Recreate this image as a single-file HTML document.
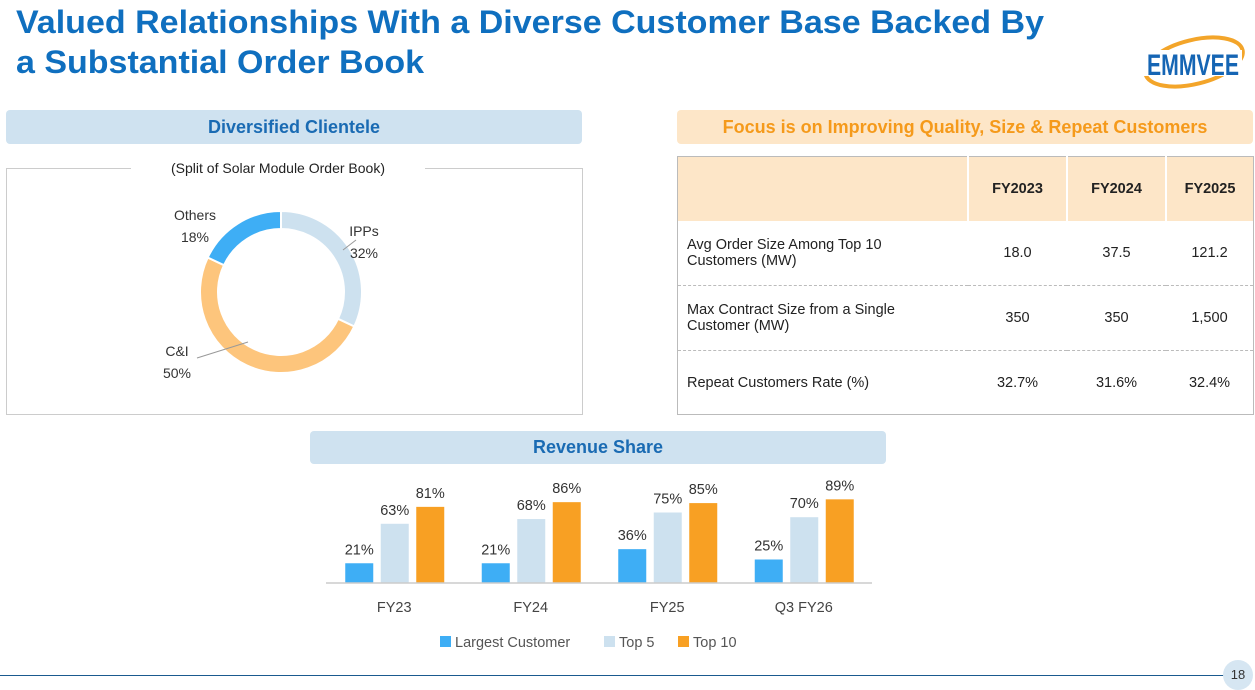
<!DOCTYPE html>
<html><head><meta charset="utf-8"><style>
body{margin:0;width:1255px;height:689px;background:#fff;font-family:"Liberation Sans",sans-serif;position:relative;overflow:hidden}
.abs{position:absolute}
.band{background:#cfe2f0;border-radius:4px;text-align:center;font-weight:bold;font-size:18px;color:#1a6bb3;line-height:34px}
td{font-size:14.5px;color:#222}
</style></head><body>
<svg class="abs" style="left:0;top:0" width="1100" height="90">
<text x="16" y="33" font-family="Liberation Sans" font-weight="bold" font-size="32" fill="#0f6fbf" textLength="1028" lengthAdjust="spacingAndGlyphs">Valued Relationships With a Diverse Customer Base Backed By</text>
<text x="16" y="73" font-family="Liberation Sans" font-weight="bold" font-size="32" fill="#0f6fbf" textLength="408" lengthAdjust="spacingAndGlyphs">a Substantial Order Book</text>
</svg>
<div class="abs" style="left:1138px;top:28px;width:110px;height:64px">
<svg width="110" height="64"><ellipse cx="56" cy="34" rx="50" ry="22" fill="none" stroke="#f3a52a" stroke-width="4" transform="rotate(-14 56 34)"/>
<rect x="4" y="22" width="100" height="26" fill="#fff"/>
<text x="55" y="47" text-anchor="middle" font-family="Liberation Sans" font-weight="bold" font-size="30" fill="#1565b4" textLength="92" lengthAdjust="spacingAndGlyphs">EMMVEE</text></svg></div>

<div class="abs band" style="left:6px;top:110px;width:576px;height:34px">Diversified Clientele</div>
<div class="abs" style="left:6px;top:168px;width:575px;height:246px;border:1px solid #ccc;border-top:none"></div>
<div class="abs" style="left:6px;top:168px;width:125px;border-top:1px solid #ccc"></div>
<div class="abs" style="left:425px;top:168px;width:157px;border-top:1px solid #ccc"></div>
<div class="abs" style="left:131px;top:160px;width:294px;text-align:center;font-size:14px;color:#222">(Split of Solar Module Order Book)</div>
<svg class="abs" style="left:0;top:0" width="600" height="420" id="donut"></svg>

<div class="abs" style="left:677px;top:110px;width:576px;height:34px;background:#fde6c8;border-radius:4px;text-align:center;font-weight:bold;font-size:18px;line-height:34px;color:#f59a1b">Focus is on Improving Quality, Size &amp; Repeat Customers</div>
<table class="abs" style="left:677px;top:156px;width:577px;border-collapse:collapse;border:1px solid #bbb">
<tr style="height:64px;background:#fde6c8"><td style="width:287px"></td><td style="width:95px;text-align:center;font-weight:bold;border-left:2px solid #fff">FY2023</td><td style="width:95px;text-align:center;font-weight:bold;border-left:2px solid #fff">FY2024</td><td style="text-align:center;font-weight:bold;border-left:2px solid #fff">FY2025</td></tr>
<tr style="height:65px;border-bottom:1px dashed #bbb"><td style="padding-left:9px">Avg Order Size Among Top 10<br>Customers (MW)</td><td align="center">18.0</td><td align="center">37.5</td><td align="center">121.2</td></tr>
<tr style="height:65px;border-bottom:1px dashed #bbb"><td style="padding-left:9px">Max Contract Size from a Single<br>Customer (MW)</td><td align="center">350</td><td align="center">350</td><td align="center">1,500</td></tr>
<tr style="height:64px"><td style="padding-left:9px">Repeat Customers Rate (%)</td><td align="center">32.7%</td><td align="center">31.6%</td><td align="center">32.4%</td></tr>
</table>

<div class="abs band" style="left:310px;top:431px;width:576px;height:33px;line-height:33px">Revenue Share</div>
<svg class="abs" style="left:0;top:0" width="1255" height="689" id="bars"></svg>

<div class="abs" style="left:0;top:675px;width:1225px;border-top:1px solid #1a5a8f"></div>
<div class="abs" style="left:1223px;top:660px;width:30px;height:30px;border-radius:15px;background:#d6e6f2;text-align:center;line-height:30px;font-size:13px;color:#333">18</div>

<script>
const NS="http://www.w3.org/2000/svg";
function mk(p,t,a){const e=document.createElementNS(NS,t);for(const k in a)e.setAttribute(k,a[k]);p.appendChild(e);return e;}
// donut
const slices=["IPPs","C&I","Others"];
const shares=[32,50,18];
const sliceColors=["#cde1ef","#fdc57c","#3eaef5"];
const d=document.getElementById("donut");
const cx=281,cy=292,R=81,r=63;
let acc=0;
shares.forEach((v,i)=>{
 const a0=acc/100*2*Math.PI,a1=(acc+v)/100*2*Math.PI;acc+=v;
 const P=(rad,a)=>[cx+rad*Math.sin(a),cy-rad*Math.cos(a)];
 const [x0,y0]=P(R,a0),[x1,y1]=P(R,a1),[x2,y2]=P(r,a1),[x3,y3]=P(r,a0);
 const lg=v>50?1:0;
 const p=mk(d,"path",{d:`M${x0},${y0}A${R},${R} 0 ${lg} 1 ${x1},${y1}L${x2},${y2}A${r},${r} 0 ${lg} 0 ${x3},${y3}Z`,fill:sliceColors[i],stroke:"#fff","stroke-width":2});
 
 
});
const labs=[[364,236,"IPPs","32%"],[177,356,"C&I","50%"],[195,220,"Others","18%"]];
labs.forEach((l,i)=>{
 const t=mk(d,"text",{x:l[0],y:l[1],"text-anchor":"middle","font-size":14,fill:"#333"});t.textContent=l[2];
 
 
 const t2=mk(d,"text",{x:l[0],y:l[1]+22,"text-anchor":"middle","font-size":14,fill:"#333"});t2.textContent=shares[i]+"%";
});
mk(d,"line",{x1:343,y1:250,x2:356,y2:240,stroke:"#999"});
mk(d,"line",{x1:197,y1:358,x2:248,y2:342,stroke:"#999"});

// bars
const categories=["FY23","FY24","FY25","Q3 FY26"];
const largest=[21,21,36,25];
const top5=[63,68,75,70];
const top10=[81,86,85,89];
const series=[largest,top5,top10];
const seriesNames=["Largest Customer","Top 5","Top 10"];
const colors=["#3eaef5","#cde1ef","#f8a023"];
const b=document.getElementById("bars");
const x0=326,x1=872,base=583,k=0.94;
const gw=(x1-x0)/categories.length;
const yS=v=>base-v*k;
categories.forEach((c,gi)=>{
 const gc=x0+gw*(gi+0.5);
 series.forEach((s,si)=>{
  const bx=gc-49+si*35.5;
  const r=mk(b,"rect",{x:bx,y:yS(s[gi]),width:28,height:base-yS(s[gi]),fill:colors[si]});
  
  
  const t=mk(b,"text",{x:bx+14,y:yS(s[gi])-9,"text-anchor":"middle","font-size":14.5,fill:"#333"});t.textContent=s[gi]+"%";
 });
 const t=mk(b,"text",{x:gc,y:612,"text-anchor":"middle","font-size":14.5,fill:"#444"});t.textContent=c;
 
 
});
mk(b,"line",{x1:x0,y1:base,x2:x1,y2:base,stroke:"#ccc","stroke-width":1.5});
const lx=[440,604,678];
seriesNames.forEach((n,i)=>{
 mk(b,"rect",{x:lx[i],y:636,width:11,height:11,fill:colors[i]});
 const t=mk(b,"text",{x:lx[i]+15,y:647,"font-size":14.5,fill:"#555"});t.textContent=n;
 
 
});
</script>
</body></html>
